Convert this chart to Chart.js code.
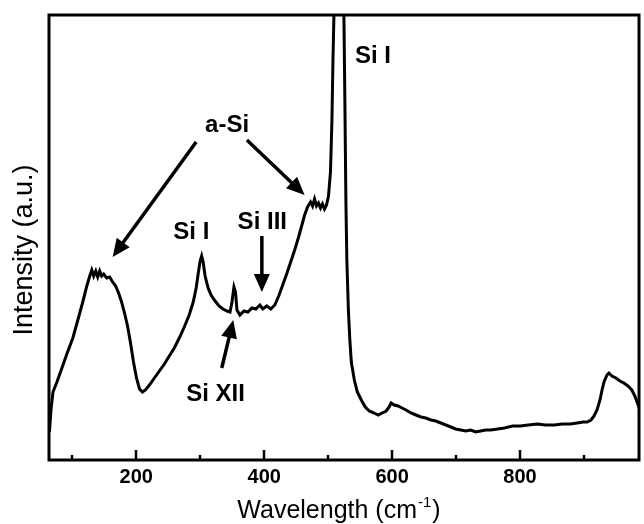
<!DOCTYPE html>
<html>
<head>
<meta charset="utf-8">
<script src="https://cdn.jsdelivr.net/npm/chart.js@4"></script>
<style>
    html, body { margin: 0; padding: 0; background: #fff; }
    #wrap { width: 644px; height: 524px; position: relative; }
</style>
</head>
<body>
<div id="wrap"><canvas id="ramanChart"></canvas></div>
<script>
// --- DATA ---
// Raman shift (cm-1) and intensity (a.u.)
const wavenumbers = [
    64.2, 66.6, 69.7, 75.9, 83.7, 91.4, 100.8, 108.6, 116.3, 122.6,
    127.2, 130.4, 133.4, 136.6, 139.7, 142.8, 145.9, 149.0, 153.7, 158.3,
    163.0, 167.7, 172.3, 177.0, 181.6, 186.3, 191.0, 195.6, 200.3, 205.0,
    209.6, 214.3, 220.5, 228.3, 236.1, 243.9, 251.6, 259.4, 267.2, 275.0,
    282.7, 289.0, 293.6, 296.7, 299.8, 302.2, 304.5, 307.6, 312.3, 316.9,
    323.2, 329.4, 335.6, 341.8, 346.5, 349.6, 352.7, 355.1, 357.4, 362.0,
    368.3, 374.5, 380.7, 386.9, 393.2, 397.8, 404.0, 410.3, 416.5, 422.7,
    428.9, 435.1, 441.4, 447.6, 453.8, 458.5, 463.2, 467.8, 472.5, 475.6,
    478.7, 481.8, 484.9, 488.0, 491.1, 494.3, 497.4, 500.5, 503.6, 505.9,
    507.5, 509.0, 513.0, 517.0, 521.0, 524.6, 526.1, 527.7, 529.2, 531.6,
    533.9, 536.2, 540.9, 545.6, 551.8, 558.0, 564.2, 572.0, 578.2, 584.4,
    590.7, 595.3, 598.4, 603.1, 609.3, 615.5, 621.7, 629.5, 637.3, 645.1,
    652.8, 660.6, 668.4, 676.2, 684.0, 691.7, 699.5, 707.3, 715.1, 722.8,
    730.6, 738.4, 746.2, 754.0, 764.9, 775.7, 788.2, 800.6, 813.0, 827.0,
    839.5, 853.5, 865.9, 878.4, 889.2, 898.6, 904.8, 911.0, 915.7, 920.3,
    925.0, 928.2, 931.3, 935.9, 939.0, 943.7, 949.9, 956.1, 962.3, 968.6,
    974.8, 979.5, 984.1, 988.8
];
const intensities = [
    28, 50, 68, 78, 92, 106, 122, 140, 158, 174,
    184, 190, 184, 189, 183, 189, 184, 186, 182, 183,
    178, 174, 167, 158, 147, 134, 117, 98, 82, 71,
    68, 70, 75, 82, 89, 96, 104, 112, 122, 133,
    145, 158, 172, 186, 199, 204, 198, 184, 172, 165,
    159, 154, 151, 149, 148, 158, 173, 168, 150, 145,
    149, 148, 152, 151, 155, 151, 154, 151, 155, 164,
    175, 186, 198, 210, 223, 234, 245, 253, 258, 254,
    261, 254, 257, 252, 256, 251, 255, 264, 288, 340,
    400, 445, 800, 1100, 800, 445, 360, 260, 200, 150,
    120, 98, 80, 68, 60, 53, 49, 47, 45, 47,
    49, 53, 57, 55, 54, 52, 50, 47, 45, 43,
    42, 40, 39, 37, 35, 33, 31, 30, 29, 30,
    28, 29, 30, 30, 31, 32, 34, 34, 35, 36,
    35, 35, 36, 36, 37, 38, 38, 40, 44, 50,
    60, 70, 78, 85, 87, 84, 82, 79, 77, 74,
    70, 64, 56, 48
];

// Axis setup
const xMin = 63.5;
const xMax = 986;
const yMin = 0;
const yMax = 445;
const majorTicks = [200, 400, 600, 800];
const minorTicks = [100, 300, 500, 700, 900];

// Annotations (data units)
const noteTexts = ['Si I', 'a-Si', 'Si I', 'Si III', 'Si XII'];
const noteX = [570, 342, 286, 397, 324];
const noteY = [404, 335, 228, 238, 66];

const arrowTailX = [293.6, 372.9, 396.3, 333.6];
const arrowTailY = [318, 320, 224, 92];
const arrowTipX = [163.0, 463.1, 396.3, 351.6];
const arrowTipY = [203, 265, 168, 140];

const FONT = "'Liberation Sans', Arial, Helvetica, sans-serif";

// --- DRAWING HELPERS ---
function drawArrow(ctx, x1, y1, x2, y2) {
    const ang = Math.atan2(y2 - y1, x2 - x1);
    const headLen = 18, headHalf = 8;
    const bx = x2 - headLen * Math.cos(ang);
    const by = y2 - headLen * Math.sin(ang);
    ctx.beginPath();
    ctx.moveTo(x1, y1);
    ctx.lineTo(bx + 2 * Math.cos(ang), by + 2 * Math.sin(ang));
    ctx.lineWidth = 3.5;
    ctx.stroke();
    ctx.beginPath();
    ctx.moveTo(x2, y2);
    ctx.lineTo(bx + headHalf * Math.sin(ang), by - headHalf * Math.cos(ang));
    ctx.lineTo(bx - headHalf * Math.sin(ang), by + headHalf * Math.cos(ang));
    ctx.closePath();
    ctx.fill();
}

const decorPlugin = {
    id: 'decor',
    afterDatasetsDraw(chart) {
        const ctx = chart.ctx;
        const area = chart.chartArea;
        const xs = chart.scales.x, ys = chart.scales.y;
        ctx.save();
        ctx.strokeStyle = '#000';
        ctx.fillStyle = '#000';

        // frame
        ctx.lineWidth = 3;
        ctx.strokeRect(area.left, area.top, area.right - area.left, area.bottom - area.top);

        // inward ticks on x axis
        ctx.lineWidth = 2.5;
        majorTicks.forEach(v => {
            const px = Math.round(xs.getPixelForValue(v));
            ctx.beginPath(); ctx.moveTo(px, area.bottom); ctx.lineTo(px, area.bottom - 10); ctx.stroke();
        });
        minorTicks.forEach(v => {
            const px = Math.round(xs.getPixelForValue(v));
            ctx.beginPath(); ctx.moveTo(px, area.bottom); ctx.lineTo(px, area.bottom - 5); ctx.stroke();
        });

        // annotation labels
        ctx.font = 'bold 24px ' + FONT;
        ctx.textAlign = 'center';
        ctx.textBaseline = 'middle';
        noteTexts.forEach((t, i) => {
            ctx.fillText(t, xs.getPixelForValue(noteX[i]), ys.getPixelForValue(noteY[i]));
        });

        // arrows
        arrowTailX.forEach((_, i) => {
            drawArrow(ctx,
                xs.getPixelForValue(arrowTailX[i]), ys.getPixelForValue(arrowTailY[i]),
                xs.getPixelForValue(arrowTipX[i]), ys.getPixelForValue(arrowTipY[i]));
        });

        // x axis title with superscript
        ctx.textAlign = 'left';
        ctx.textBaseline = 'alphabetic';
        const main = 'Wavelength (cm';
        const sup = '-1';
        const end = ')';
        ctx.font = '25px ' + FONT;
        const w1 = ctx.measureText(main).width;
        const w3 = ctx.measureText(end).width;
        ctx.font = '15px ' + FONT;
        const w2 = ctx.measureText(sup).width;
        const total = w1 + w2 + w3;
        const x0 = (area.left + area.right) / 2 - total / 2 - 6;
        const base = 518;
        ctx.font = '25px ' + FONT;
        ctx.fillText(main, x0, base);
        ctx.font = '15px ' + FONT;
        ctx.fillText(sup, x0 + w1 + 1, base - 11);
        ctx.font = '25px ' + FONT;
        ctx.fillText(end, x0 + w1 + w2 + 2, base);

        // y axis title
        ctx.translate(32, 250);
        ctx.rotate(-Math.PI / 2);
        ctx.textAlign = 'center';
        ctx.font = '27px ' + FONT;
        ctx.fillText('Intensity (a.u.)', 0, 0);
        ctx.restore();
    }
};

// --- CHART SETUP ---
function initChart() {
    const ctx = document.getElementById('ramanChart').getContext('2d');
    const points = wavenumbers.map((w, i) => ({ x: w, y: intensities[i] }));
    new Chart(ctx, {
        type: 'line',
        data: {
            datasets: [{
                data: points,
                borderColor: '#000',
                borderWidth: 3,
                pointRadius: 0,
                tension: 0,
                fill: false
            }]
        },
        options: {
            responsive: true,
            maintainAspectRatio: false,
            animation: false,
            layout: { padding: { top: 15, right: 2, left: 0, bottom: 0 } },
            plugins: { legend: { display: false }, tooltip: { enabled: false } },
            scales: {
                x: {
                    type: 'linear',
                    min: xMin,
                    max: xMax,
                    afterFit: (s) => { s.height = 64; },
                    grid: { display: false, drawTicks: false },
                    border: { display: false },
                    ticks: {
                        stepSize: 100,
                        padding: 5,
                        color: '#000',
                        font: { family: FONT, size: 20, weight: 'bold' },
                        maxRotation: 0,
                        autoSkip: false,
                        callback: (v) => majorTicks.includes(v) ? String(v) : ''
                    }
                },
                y: {
                    min: yMin,
                    max: yMax,
                    afterFit: (s) => { s.width = 49; },
                    grid: { display: false, drawTicks: false },
                    border: { display: false },
                    ticks: { display: false }
                }
            }
        },
        plugins: [decorPlugin]
    });
}

document.addEventListener('DOMContentLoaded', initChart);
</script>
</body>
</html>
